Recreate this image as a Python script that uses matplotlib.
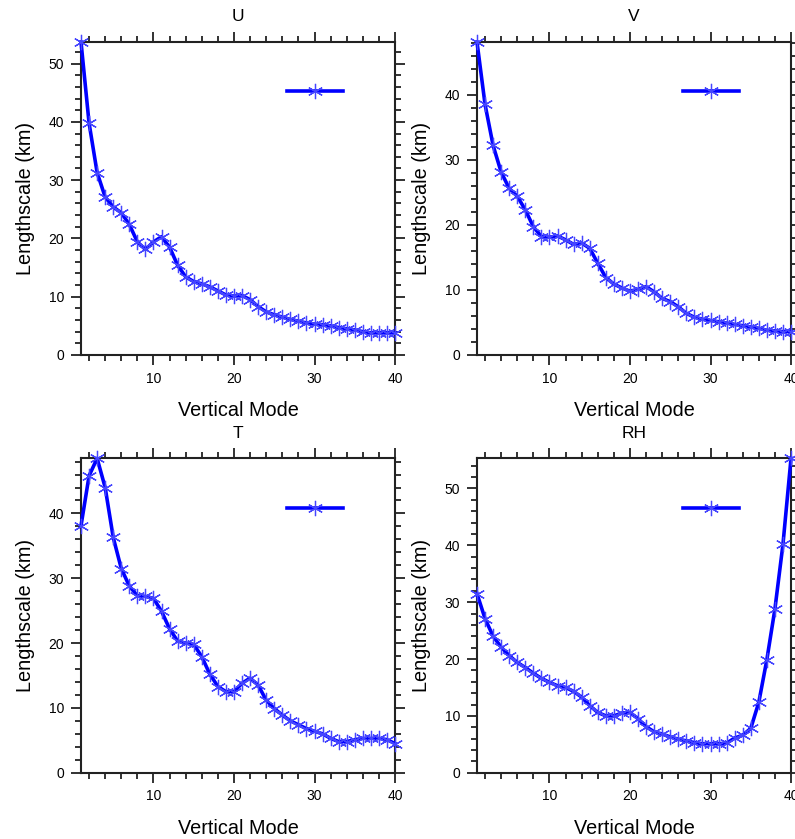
import numpy as np
import matplotlib
matplotlib.use('Agg')
import matplotlib.pyplot as plt
from matplotlib.ticker import MultipleLocator

plt.rcParams['font.family'] = ['Liberation Sans', 'DejaVu Sans']

# Vertical mode index
modes = list(range(1, 41))

# Lengthscale (km) per variable
u_len = [53.7, 39.8, 31.3, 27.1, 25.4, 24.4, 22.4, 19.4, 18.1, 19.4,
         20.3, 18.5, 15.4, 13.4, 12.6, 12.2, 11.7, 11.0, 10.3, 10.1,
         10.2, 9.5, 8.3, 7.4, 6.9, 6.5, 6.1, 5.8, 5.5, 5.3,
         5.2, 5.0, 4.7, 4.5, 4.3, 4.0, 3.8, 3.8, 3.8, 3.8]
v_len = [48.1, 38.5, 32.2, 28.1, 25.6, 24.4, 22.3, 19.7, 18.2, 18.1,
         18.3, 17.7, 17.0, 17.2, 16.4, 14.1, 11.9, 10.9, 10.3, 9.8,
         10.1, 10.5, 9.7, 8.7, 8.2, 7.4, 6.4, 5.8, 5.5, 5.3,
         5.1, 4.9, 4.7, 4.5, 4.3, 4.1, 3.8, 3.7, 3.6, 3.6]
t_len = [38.1, 45.8, 48.5, 44.0, 36.3, 31.5, 28.8, 27.3, 27.2, 26.9,
         24.9, 22.2, 20.3, 20.0, 19.8, 17.9, 15.2, 13.3, 12.5, 12.5,
         13.8, 14.6, 13.5, 11.2, 9.9, 8.9, 8.0, 7.4, 6.8, 6.4,
         6.0, 5.3, 4.8, 4.8, 5.1, 5.3, 5.3, 5.3, 5.1, 4.5]
rh_len = [31.5, 27.1, 24.0, 22.1, 20.6, 19.4, 18.5, 17.5, 16.6, 15.9,
          15.3, 15.0, 14.3, 13.3, 11.8, 10.6, 10.0, 10.0, 10.5, 10.6,
          9.5, 8.1, 7.2, 6.8, 6.3, 5.9, 5.6, 5.3, 5.1, 5.1,
          5.1, 5.2, 6.1, 6.6, 7.8, 12.4, 19.9, 28.8, 40.2, 55.3]

titles = ['U', 'V', 'T', 'RH']
series = [u_len, v_len, t_len, rh_len]

fig = plt.figure(figsize=(7.95, 8.39), dpi=100)
# panel positions [left, bottom, width, height]
positions = [[0.1019, 0.5769, 0.395, 0.373],
             [0.6, 0.5769, 0.395, 0.373],
             [0.1019, 0.0790, 0.395, 0.3747],
             [0.6, 0.0790, 0.395, 0.3747]]

marker = (6, 2, 0)  # asterisk

for title, vals, pos in zip(titles, series, positions):
    ax = fig.add_axes(pos)
    line, = ax.plot(modes, vals, color='#0000ff', lw=2.6,
                    marker=marker, ms=11, mec='#4545ff', mew=0.9,
                    clip_on=False, zorder=3)
    ax.set_xlim(1, 40)
    ax.set_ylim(0, max(vals))
    ax.xaxis.set_major_locator(MultipleLocator(10))
    ax.xaxis.set_minor_locator(MultipleLocator(2))
    ax.yaxis.set_major_locator(MultipleLocator(10))
    ax.yaxis.set_minor_locator(MultipleLocator(2))
    ax.tick_params(which='both', direction='out', top=True, right=True,
                   color='#222222', width=1.3, labelsize=10)
    ax.tick_params(which='major', length=7, pad=5)
    ax.tick_params(which='minor', length=4)
    for sp in ax.spines.values():
        sp.set_linewidth(1.5)
        sp.set_color('#222222')
    ax.set_title(title, fontsize=12.5, pad=15)
    ax.set_xlabel('Vertical Mode', fontsize=14.3, labelpad=11)
    ax.set_ylabel('Lengthscale (km)', fontsize=14.3, labelpad=10)
    ax.legend(handles=[line], labels=[''], loc='center',
              bbox_to_anchor=(0.745, 0.84), frameon=False, numpoints=1,
              handlelength=4.0, handletextpad=0, borderpad=0)

plt.savefig('out.png', dpi=100)
